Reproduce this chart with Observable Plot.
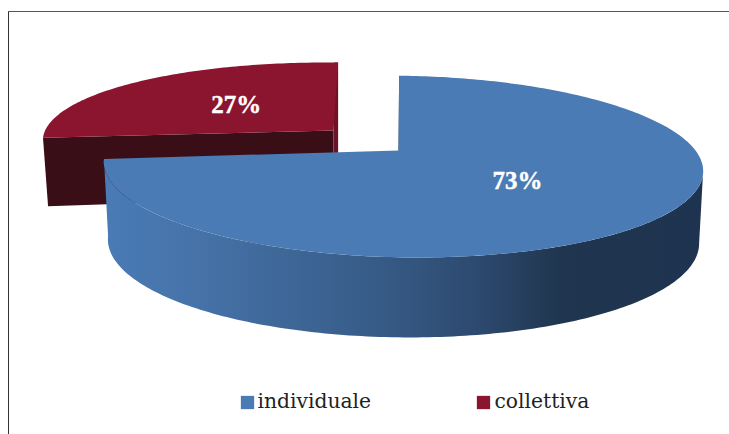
<!DOCTYPE html>
<html><head><meta charset="utf-8">
<style>html,body{margin:0;padding:0;background:#fff}svg{display:block}</style>
<script src="https://cdn.jsdelivr.net/npm/d3@7"></script>
<script src="https://cdn.jsdelivr.net/npm/@observablehq/plot@0.6"></script>
</head><body><script>
const categories = ["individuale", "collettiva"];
const shares = [73, 27];
const topColors = ["#4a7bb5", "#8b152e"];
const faceColor = "#3a0e17";
const legendX = [247, 483];
const legendTextX = [257, 494];
const labelRadius = [0.48, 0.5];

const W = 729, H = 434, K = 0.176, ROT = -1, SHEAR = 0.015, SHEAR_BOTTOM = 0.007;
const discs = [
  {cx:403, cy:150, ax:398, b:295, a:88, depth:74, bb:291, ab:93},
  {cx:342, cy:130, ax:333, b:295, a:80, depth:66, bb:290, ab:80}
];
function proj(d, deg, r=1, bottom=false){
  const t = deg*Math.PI/180, u = r*Math.sin(t), v = -r*Math.cos(t), s = 1/(1-K*v);
  const x = d.cx + (bottom?d.bb:d.b)*u*s;
  const y = bottom
    ? d.cy + d.depth + d.ab*v*s + SHEAR_BOTTOM*(x-d.ax)
    : d.cy + d.a*v*s + SHEAR*(x-d.ax);
  return {x,y};
}
let cum = 0;
const slices = shares.map((v,i)=>{const s={start:ROT+cum*3.6,end:ROT+(cum+v)*3.6}; cum+=v; return s;});
function arc(d,a0,a1,bottom=false){
  const n=Math.ceil(Math.abs(a1-a0)), o=[];
  for(let i=0;i<=n;i++) o.push(proj(d,a0+(a1-a0)*i/n,1,bottom));
  return o;
}
const B=discs[0], bs=slices[0], R=discs[1], rs=slices[1];
const blueTop=[{x:B.ax,y:B.cy},...arc(B,bs.start,bs.end)];
const blueSide=[...arc(B,100,bs.end),...arc(B,bs.end,100,true)];
const s0=proj(B,bs.start);
const blueCut=[s0,{x:s0.x+3,y:s0.y+2},{x:B.ax+3,y:B.cy},{x:B.ax,y:B.cy}];
const redTop=[{x:R.ax,y:R.cy},...arc(R,rs.start,rs.end)];
const rl=proj(R,rs.start), rb=proj(R,rs.start,1,true);
const redFace=[rl,{x:R.ax,y:R.cy},{x:R.ax,y:R.cy+R.depth},rb];
const re=proj(R,rs.end);
const redCut=[re,{x:re.x-4,y:re.y},{x:R.ax,y:R.cy},{x:R.ax,y:R.cy+R.depth},{x:re.x,y:R.cy+R.depth}];
const labels=slices.map((s,i)=>({...proj(discs[i],(s.start+s.end)/2,labelRadius[i]),t:shares[i]+"%"}));
const legend=categories.map((c,i)=>({c,x:legendX[i],tx:legendTextX[i],fill:topColors[i]}));

const poly=(pts,fill)=>Plot.line(pts,{x:"x",y:"y",curve:"linear-closed",fill,stroke:"none"});
const chart=Plot.plot({
  width:W,height:H,margin:0,
  x:{domain:[0,W],range:[0,W],axis:null},
  y:{domain:[0,H],range:[0,H],axis:null},
  style:{background:"#fff"},
  marks:[
    ()=>{const s=d3.create("svg:defs");const g=s.append("linearGradient").attr("id","sideGrad");
      [[0,"#4a7bb5"],[.15,"#4673a9"],[.47,"#365a85"],[.62,"#2d4a70"],[.76,"#20364f"],[1,"#1d3350"]]
        .forEach(([o,c])=>g.append("stop").attr("offset",o).attr("stop-color",c));
      return s.node();},
    Plot.ruleX([8],{y1:11,y2:H,stroke:"#333",strokeWidth:1}),
    Plot.ruleY([11],{x1:8,x2:W,stroke:"#555",strokeWidth:1.2}),
    poly(redFace,faceColor),
    poly(redCut,"#6e1226"),
    poly(redTop,topColors[1]),
    poly(blueCut,"#1d3350"),
    poly(blueSide,"url(#sideGrad)"),
    poly(blueTop,topColors[0]),
    Plot.text(labels,{x:"x",y:"y",text:"t",fill:"#fff",stroke:"#fff",strokeWidth:0.4,fontFamily:"Liberation Serif",fontWeight:"bold",fontSize:25}),
    Plot.dot(legend,{x:"x",y:402,symbol:"square",r:7.5,fill:"fill"}),
    Plot.text(legend,{x:"tx",y:401,text:"c",textAnchor:"start",fill:"#222",fontFamily:"DejaVu Serif",fontSize:20.3})
  ]
});
document.body.appendChild(chart);
</script></body></html>
